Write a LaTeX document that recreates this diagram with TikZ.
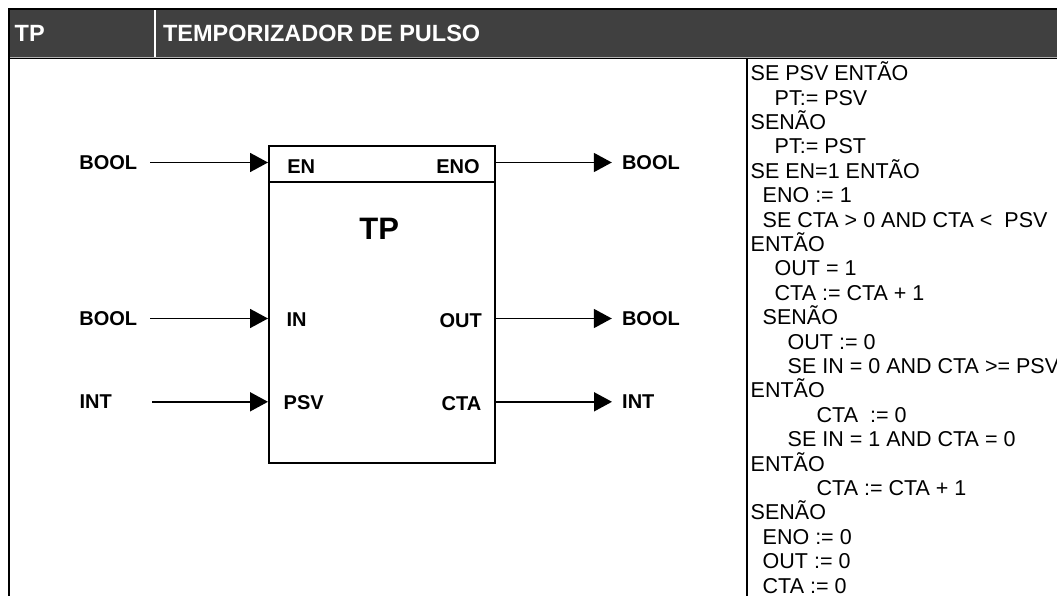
\documentclass[tikz,border=0pt]{standalone}
\usepackage{fontspec}
\setmainfont{Liberation Sans}
\usetikzlibrary{arrows.meta}
\definecolor{hdrgray}{RGB}{64,64,64}
\tikzset{
  typelbl/.style={font=\fontsize{20}{24}\selectfont\bfseries, inner sep=0pt},
  portlbl/.style={font=\fontsize{20}{24}\selectfont\bfseries, inner sep=0pt},
  hdrtxt/.style={font=\fontsize{23.5}{28}\selectfont\bfseries, text=white, inner sep=0pt},
  codetxt/.style={font=\fontsize{21.5}{24.4}\selectfont, align=left, inner sep=0pt},
  sig/.style={line width=1.8pt, -{Triangle[length=18pt,width=19pt]}},
  sigin/.style={sig, shorten <=13pt},
  sigout/.style={sig, shorten >=10pt}
}
\begin{document}
\begin{tikzpicture}[x=1pt,y=-1pt]
      \useasboundingbox (0,0) rectangle (1057,596);
      \fill[hdrgray] (9,9) rectangle (1057,57.5);
      \draw[white, line width=1.5pt] (155,10) -- (155,57);
      \draw[gray!60, line width=0.8pt] (10,57) -- (1057,57);
      \draw[line width=1pt] (9,58.3) -- (1057,58.3);
      \draw[line width=2pt] (9,596) -- (9,9) -- (1057,9);
      \draw[line width=1.8pt] (746.7,58) -- (746.7,596);
      \node[hdrtxt, anchor=west] (hTP) at (14.5,33.8) {TP};
      \node[hdrtxt, anchor=west] (hName) at (162.8,33.8) {TEMPORIZADOR DE PULSO};
      \node[draw, line width=2pt, minimum width=225.5pt, minimum height=317pt, inner sep=0pt] (tp) at (381.75,304.2) {};
      \coordinate (sepW) at (269,182.3);
      \coordinate (sepE) at (494.5,182.3);
      \draw[line width=2pt] (sepW) -- (sepE);
      \node[font=\fontsize{31}{36}\selectfont\bfseries, inner sep=0pt] (title) at (379.3,228.7) {TP};
      \node[portlbl, anchor=west] (pEN) at (287.2,167) {EN};
      \node[portlbl, anchor=east] (pENO) at (479.8,167) {ENO};
      \node[portlbl, anchor=west] (pIN) at (286.4,319.5) {IN};
      \node[portlbl, anchor=east] (pOUT) at (482,320.5) {OUT};
      \node[portlbl, anchor=west] (pPSV) at (283.5,402.8) {PSV};
      \node[portlbl, anchor=east] (pCTA) at (481.5,404) {CTA};
      \node[typelbl, anchor=west] (inEN) at (79.2,162.5) {BOOL};
      \node[typelbl, anchor=west] (inIN) at (79.2,318.5) {BOOL};
      \node[typelbl, anchor=west] (inPSV) at (79.4,401.8) {INT};
      \node[typelbl, anchor=west] (outENO) at (621.8,162.5) {BOOL};
      \node[typelbl, anchor=west] (outOUT) at (621.8,318.5) {BOOL};
      \node[typelbl, anchor=west] (outCTA) at (622,401.8) {INT};
      \begin{scope}
        \draw[sigin] (inEN) -- (tp.west |- inEN);
        \draw[sigin] (inIN) -- (tp.west |- inIN);
        \draw[sigin, shorten <=40pt] (inPSV) -- (tp.west |- inPSV);
        \draw[sigout] (tp.east |- outENO) -- (outENO);
        \draw[sigout] (tp.east |- outOUT) -- (outOUT);
        \draw[sigout] (tp.east |- outCTA) -- (outCTA);
      \end{scope}
      \node[codetxt, anchor=base west] (st) at (750.5,593) {SE PSV ENTÃO\\
        \hspace*{24pt}PT:= PSV\\
        SENÃO\\
        \hspace*{24pt}PT:= PST\\
        SE EN=1 ENTÃO\\
        \hspace*{12pt}ENO := 1\\
        \hspace*{12pt}SE CTA > 0 AND CTA <\ \ PSV\\
        ENTÃO\\
        \hspace*{24pt}OUT = 1\\
        \hspace*{24pt}CTA := CTA + 1\\
        \hspace*{12pt}SENÃO\\
        \hspace*{37pt}OUT := 0\\
        \hspace*{37pt}SE IN = 0 AND CTA >= PSV\\
        ENTÃO\\
        \hspace*{66pt}CTA\ \ := 0\\
        \hspace*{37pt}SE IN = 1 AND CTA = 0\\
        ENTÃO\\
        \hspace*{66pt}CTA := CTA + 1\\
        SENÃO\\
        \hspace*{12pt}ENO := 0\\
        \hspace*{12pt}OUT := 0\\
        \hspace*{12pt}CTA := 0};
    \end{tikzpicture}
\end{document}
